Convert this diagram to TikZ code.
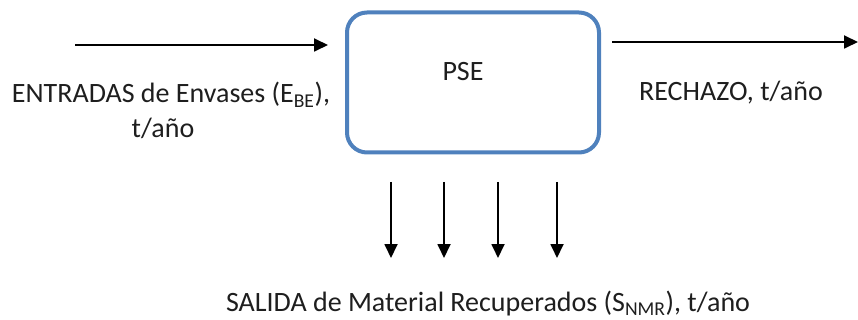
\documentclass[tikz,border=0pt]{standalone}
\usepackage{fontspec}
\setmainfont{Carlito}
\usetikzlibrary{arrows.meta}
\definecolor{boxblue}{RGB}{79,129,189}
\definecolor{txt}{RGB}{30,30,30}
\tikzset{
  flow/.style={line width=1.8pt,-{Triangle[width=13pt,length=14pt]}},
  lbl/.style={font=\fontsize{28}{34}\selectfont,text=txt,inner sep=0pt,align=center},
  procbox/.style={draw=boxblue,line width=4pt,rounded corners=20pt,fill=white}
}
\begin{document}
\begin{tikzpicture}[x=1pt,y=-1pt]
\useasboundingbox (0,0) rectangle (858,320);
\node[procbox,minimum width=252pt,minimum height=140pt] (pse) at (473,82.5) {};
\node[lbl,anchor=base] (pset) at (463,81) {PSE};
\coordinate (inA) at (75,45);
\coordinate (inB) at (328,45);
\draw[flow] (inA) -- (inB);
\coordinate (outA) at (612,42);
\coordinate (outB) at (858,42);
\draw[flow] (outA) -- (outB);
\node[lbl,anchor=base] (ent1) at (171,103) {ENTRADAS de Envases (E\textsubscript{BE}),};
\node[lbl,anchor=base] (ent2) at (163,138) {t/año};
\node[lbl,anchor=base] (rech) at (731,101) {RECHAZO, t/año};
\foreach \i/\xx in {1/391,2/444,3/498,4/557}{
  \coordinate (d\i a) at (\xx,182);
  \coordinate (d\i b) at (\xx,258);
  \draw[flow] (d\i a) -- (d\i b);
}
\node[lbl,anchor=base] (sal) at (488,311) {SALIDA de Material Recuperados (S\textsubscript{NMR}), t/año};
\end{tikzpicture}
\end{document}
